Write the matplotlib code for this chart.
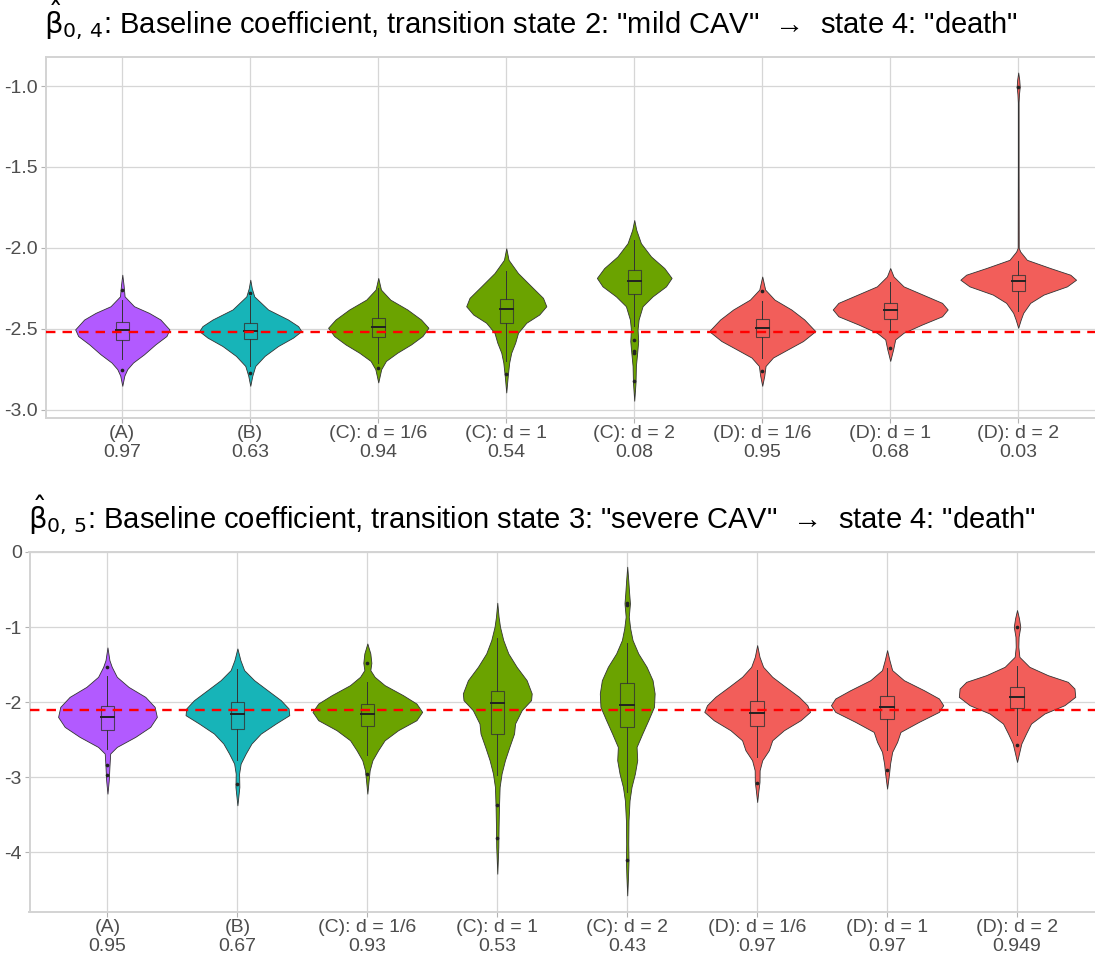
import numpy as np
import matplotlib
matplotlib.use("Agg")
import matplotlib.pyplot as plt
from matplotlib.patches import Rectangle

plt.rcParams['font.family'] = ['Liberation Sans', 'DejaVu Sans']
plt.rcParams['mathtext.fontset'] = 'dejavusans'
plt.rcParams['axes.unicode_minus'] = False

methods = ['(A)', '(B)', '(C): d = 1/6', '(C): d = 1', '(C): d = 2',
           '(D): d = 1/6', '(D): d = 1', '(D): d = 2']
fills = ['#B25AFF', '#17B4B8', '#6BA300', '#6BA300', '#6BA300',
         '#F25E5A', '#F25E5A', '#F25E5A']

# ---- beta_{0,4}: mild CAV -> death ----
cover_04 = ['0.97', '0.63', '0.94', '0.54', '0.08', '0.95', '0.68', '0.03']
true_04 = -2.52
yticks_04 = [-3.0, -2.5, -2.0, -1.5, -1.0]
ylabels_04 = ['-3.0', '-2.5', '-2.0', '-1.5', '-1.0']

# violin outlines: y positions and half widths (x units)
vy_04 = [
    [-2.166, -2.23, -2.300, -2.361, -2.402, -2.443, -2.504, -2.545, -2.597, -2.658, -2.709, -2.750, -2.790, -2.853],
    [-2.197, -2.25, -2.30, -2.381, -2.443, -2.484, -2.515, -2.555, -2.607, -2.668, -2.730, -2.790, -2.853],
    [-2.186, -2.258, -2.32, -2.381, -2.443, -2.494, -2.545, -2.597, -2.648, -2.699, -2.75, -2.832],
    [-2.002, -2.074, -2.156, -2.238, -2.309, -2.361, -2.412, -2.463, -2.525, -2.586, -2.648, -2.709, -2.79, -2.894],
    [-1.828, -1.889, -1.971, -2.053, -2.125, -2.186, -2.238, -2.30, -2.361, -2.443, -2.504, -2.576, -2.648, -2.73, -2.832, -2.945],
    [-2.177, -2.258, -2.32, -2.381, -2.443, -2.515, -2.576, -2.627, -2.678, -2.73, -2.79, -2.853],
    [-2.125, -2.177, -2.238, -2.30, -2.34, -2.381, -2.423, -2.474, -2.525, -2.566, -2.627, -2.699],
    [-0.916, -0.96, -1.004, -1.05, -1.10, -1.5, -2.0, -2.023, -2.074, -2.125, -2.166, -2.197, -2.238, -2.289, -2.34, -2.402, -2.443, -2.494],
]
vw_04 = [
    [0, 0.010, 0.018, 0.092, 0.209, 0.298, 0.368, 0.345, 0.258, 0.170, 0.084, 0.039, 0.016, 0],
    [0, 0.012, 0.031, 0.139, 0.295, 0.374, 0.399, 0.334, 0.217, 0.112, 0.039, 0.016, 0],
    [0, 0.021, 0.094, 0.227, 0.334, 0.392, 0.345, 0.256, 0.149, 0.060, 0.023, 0],
    [0, 0.018, 0.092, 0.196, 0.287, 0.313, 0.258, 0.157, 0.092, 0.070, 0.039, 0.023, 0.012, 0],
    [0, 0.016, 0.052, 0.131, 0.235, 0.292, 0.248, 0.143, 0.065, 0.034, 0.026, 0.031, 0.023, 0.013, 0.010, 0],
    [0, 0.023, 0.096, 0.227, 0.329, 0.415, 0.319, 0.201, 0.084, 0.026, 0.016, 0],
    [0, 0.026, 0.104, 0.287, 0.405, 0.449, 0.405, 0.248, 0.104, 0.039, 0.023, 0],
    [0, 0.008, 0.012, 0.006, 0.003, 0.003, 0.004, 0.016, 0.068, 0.251, 0.407, 0.452, 0.381, 0.198, 0.094, 0.039, 0.020, 0],
]
q1_04 = [-2.572, -2.566, -2.549, -2.463, -2.285, -2.549, -2.439, -2.264]
med_04 = [-2.509, -2.515, -2.490, -2.375, -2.203, -2.498, -2.386, -2.207]
q3_04 = [-2.457, -2.463, -2.432, -2.315, -2.135, -2.437, -2.340, -2.166]
wlo_04 = [-2.689, -2.730, -2.710, -2.700, -2.484, -2.678, -2.515, -2.392]
whi_04 = [-2.320, -2.300, -2.248, -2.146, -1.951, -2.330, -2.213, -2.084]
out_04 = [[-2.258, -2.755], [-2.279, -2.771], [-2.745], [-2.781],
          [-2.570, -2.638, -2.65, -2.826], [-2.264, -2.76], [-2.617], [-1.004]]

# ---- beta_{0,5}: severe CAV -> death ----
cover_05 = ['0.95', '0.67', '0.93', '0.53', '0.43', '0.97', '0.97', '0.949']
true_05 = -2.10
yticks_05 = [-4, -3, -2, -1, 0]
ylabels_05 = ['-4', '-3', '-2', '-1', '0']

vy_05 = [
    [-1.271, -1.44, -1.529, -1.662, -1.796, -1.929, -2.062, -2.196, -2.329, -2.462, -2.596, -2.684, -2.862, -3.04, -3.218],
    [-1.284, -1.44, -1.573, -1.707, -1.84, -1.973, -2.084, -2.173, -2.284, -2.418, -2.551, -2.684, -2.818, -2.951, -3.129, -3.373],
    [-1.218, -1.351, -1.476, -1.573, -1.662, -1.773, -1.907, -2.018, -2.129, -2.24, -2.373, -2.507, -2.64, -2.773, -2.907, -3.04, -3.218],
    [-0.676, -0.862, -0.996, -1.173, -1.351, -1.529, -1.707, -1.884, -1.973, -2.107, -2.284, -2.418, -2.596, -2.773, -2.951, -3.129, -3.396, -3.662, -3.929, -4.284],
    [-0.196, -0.373, -0.551, -0.684, -0.862, -1.018, -1.173, -1.351, -1.529, -1.707, -1.884, -2.062, -2.24, -2.418, -2.596, -2.773, -2.951, -3.129, -3.307, -3.573, -3.884, -4.107, -4.329, -4.573],
    [-1.24, -1.396, -1.529, -1.662, -1.796, -1.929, -2.04, -2.129, -2.24, -2.373, -2.507, -2.64, -2.773, -2.907, -3.062, -3.173, -3.329],
    [-1.307, -1.44, -1.573, -1.707, -1.84, -1.951, -2.04, -2.129, -2.262, -2.396, -2.529, -2.662, -2.818, -2.951, -3.151],
    [-0.773, -0.884, -0.996, -1.129, -1.262, -1.396, -1.529, -1.64, -1.729, -1.818, -1.929, -2.04, -2.151, -2.284, -2.418, -2.551, -2.662, -2.796],
]
vw_05 = [
    [0, 0.015, 0.033, 0.072, 0.162, 0.291, 0.363, 0.380, 0.329, 0.214, 0.072, 0.021, 0.015, 0.010, 0],
    [0, 0.023, 0.052, 0.129, 0.231, 0.334, 0.394, 0.399, 0.296, 0.180, 0.108, 0.064, 0.025, 0.013, 0.015, 0],
    [0, 0.023, 0.031, 0.023, 0.056, 0.133, 0.275, 0.378, 0.422, 0.378, 0.237, 0.133, 0.083, 0.039, 0.018, 0.010, 0],
    [0, 0.010, 0.021, 0.046, 0.085, 0.149, 0.226, 0.265, 0.260, 0.188, 0.137, 0.129, 0.093, 0.059, 0.033, 0.018, 0.013, 0.010, 0.008, 0],
    [0, 0.008, 0.015, 0.021, 0.012, 0.023, 0.041, 0.085, 0.149, 0.195, 0.211, 0.206, 0.162, 0.116, 0.072, 0.077, 0.059, 0.033, 0.018, 0.010, 0.008, 0.010, 0.006, 0],
    [0, 0.018, 0.046, 0.116, 0.218, 0.322, 0.386, 0.407, 0.334, 0.206, 0.116, 0.090, 0.039, 0.019, 0.018, 0.010, 0],
    [0, 0.018, 0.039, 0.129, 0.283, 0.399, 0.432, 0.399, 0.245, 0.103, 0.077, 0.039, 0.023, 0.015, 0],
    [0, 0.015, 0.025, 0.012, 0.010, 0.018, 0.095, 0.237, 0.391, 0.442, 0.448, 0.365, 0.211, 0.108, 0.069, 0.033, 0.018, 0],
]
q1_05 = [-2.364, -2.351, -2.316, -2.418, -2.329, -2.320, -2.218, -2.071]
med_05 = [-2.200, -2.160, -2.151, -2.009, -2.031, -2.147, -2.067, -1.929]
q3_05 = [-2.049, -2.004, -2.018, -1.849, -1.742, -1.982, -1.916, -1.804]
wlo_05 = [-2.618, -2.764, -2.707, -2.973, -3.200, -2.729, -2.640, -2.440]
whi_05 = [-1.649, -1.564, -1.729, -1.151, -1.218, -1.573, -1.551, -1.520]
out_05 = [[-1.538, -2.831, -2.964], [-3.084], [-1.476, -2.956], [-3.373, -3.804],
          [-0.676, -0.707, -4.107], [-3.071], [-2.907], [-0.996, -2.573]]


def draw_panel(ax, vy, vw, q1, med, q3, wlo, whi, outs, cover, true_val,
               yticks, ylabels, ylim, title):
    xs = np.arange(1, len(methods) + 1)
    for i, x in enumerate(xs):
        y = np.array(vy[i])
        w = np.array(vw[i])
        ax.fill_betweenx(y, x - w, x + w, facecolor=fills[i],
                         edgecolor='#333333', linewidth=0.6, zorder=2)
        # boxplot on top of the violin
        ax.plot([x, x], [wlo[i], q1[i]], color='#333333', lw=0.7, zorder=3)
        ax.plot([x, x], [q3[i], whi[i]], color='#333333', lw=0.7, zorder=3)
        ax.add_patch(Rectangle((x - 0.052, q1[i]), 0.104, q3[i] - q1[i],
                               facecolor='none', edgecolor='#333333',
                               alpha=0.8, lw=0.8, zorder=3))
        ax.plot([x - 0.052, x + 0.052], [med[i], med[i]], color='#222222',
                lw=1.4, zorder=3)
        ax.scatter([x] * len(outs[i]), outs[i], s=7, color='#222222',
                   zorder=4, linewidths=0)
    ax.axhline(true_val, color='#FF0000', lw=1.7, ls=(0, (4, 3)), zorder=5)

    ax.set_xlim(0.4, len(methods) + 0.6)
    ax.set_ylim(*ylim)
    ax.set_xticks(xs)
    ax.set_xticklabels([m + '\n' + c for m, c in zip(methods, cover)],
                       linespacing=1.1)
    ax.set_yticks(yticks)
    ax.set_yticklabels(ylabels)
    ax.tick_params(colors='#B3B3B3', labelcolor='#4D4D4D', labelsize=14,
                   length=3.5, width=0.8, pad=2)
    ax.grid(True, color='#D6D6D6', lw=0.9)
    ax.set_axisbelow(True)
    for side in ['left', 'bottom', 'top']:
        ax.spines[side].set_color('#D3D3D3')
        ax.spines[side].set_linewidth(1.4)
    ax.spines['right'].set_visible(False)
    ax.annotate(title, xy=(0, 1), xycoords='axes fraction',
                xytext=(-1, 24), textcoords='offset pixels',
                ha='left', va='baseline', fontsize=21)


fig = plt.figure(figsize=(10.95, 9.6), dpi=100)
ax1 = fig.add_axes([45.5 / 1095, 1 - 417.7 / 960, 1 - 45.5 / 1095, (417.7 - 57) / 960])
ax2 = fig.add_axes([29.5 / 1095, 1 - 911.7 / 960, 1 - 29.5 / 1095, (911.7 - 552) / 960])

draw_panel(ax1, vy_04, vw_04, q1_04, med_04, q3_04, wlo_04, whi_04, out_04,
           cover_04, true_04, yticks_04, ylabels_04, (-3.05, -0.82),
           r'$\hat{\mathrm{\beta}}_{0,\,4}$: Baseline coefficient, transition state 2: "mild CAV"  →  state 4: "death"')
draw_panel(ax2, vy_05, vw_05, q1_05, med_05, q3_05, wlo_05, whi_05, out_05,
           cover_05, true_05, yticks_05, ylabels_05, (-4.79, 0),
           r'$\hat{\mathrm{\beta}}_{0,\,5}$: Baseline coefficient, transition state 3: "severe CAV"  →  state 4: "death"')

fig.savefig('out.png', dpi=100)
